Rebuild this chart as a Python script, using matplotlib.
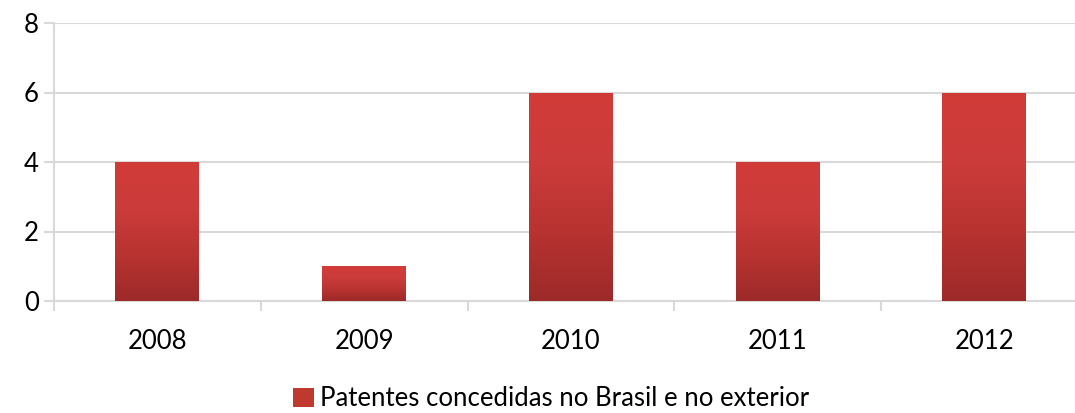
import numpy as np
import matplotlib.pyplot as plt
from matplotlib.colors import LinearSegmentedColormap
from matplotlib.patches import Patch

years = ['2008', '2009', '2010', '2011', '2012']
patentes = [4, 1, 6, 4, 6]
serie = 'Patentes concedidas no Brasil e no exterior'

plt.rcParams['font.family'] = ['Lato', 'DejaVu Sans']

fig = plt.figure(figsize=(10.75, 4.13), dpi=100)
# plot area runs a bit past the right edge of the image, like the original
ax = fig.add_axes([54 / 1075, 1 - 301 / 413, (5 * 206.75) / 1075, (301 - 23) / 413])

grid_c = '#d9d9d9'
x = np.arange(len(years))
bars = ax.bar(x, patentes, width=0.406, color='none', edgecolor='none', zorder=3)

# vertical red gradient: lighter on top, darker at the base
cmap = LinearSegmentedColormap.from_list('red_grad', ['#9c2a29', '#b83331', '#cb3c3a', '#d13b38'])
grad = np.linspace(0, 1, 256).reshape(-1, 1)
for b in bars:
    x0, y0 = b.get_x(), b.get_y()
    w, h = b.get_width(), b.get_height()
    im = ax.imshow(grad, cmap=cmap, origin='lower', aspect='auto',
                   extent=[x0, x0 + w, y0, y0 + h], zorder=3)
    im.set_clip_path(b)

ax.set_xlim(-0.5, len(years) - 0.5)
ax.set_ylim(0, 8)
ax.set_yticks([0, 2, 4, 6, 8])
ax.yaxis.grid(True, color=grid_c, linewidth=1.5, zorder=0)

ax.set_xticks(x)
ax.set_xticklabels(years, fontsize=18.5)
ax.set_xticks(np.arange(-0.5, len(years)), minor=True)
ax.tick_params(axis='x', which='major', length=0, pad=20)
ax.tick_params(axis='x', which='minor', length=7, width=1.5, color=grid_c, direction='out')
ax.tick_params(axis='y', length=7, width=1.5, color=grid_c, labelsize=18.5, pad=4)

for s in ['top', 'right']:
    ax.spines[s].set_visible(False)
for s in ['left', 'bottom']:
    ax.spines[s].set_color(grid_c)
    ax.spines[s].set_linewidth(1.5)

handle = Patch(facecolor='#c0392f', edgecolor='none')
fig.legend([handle], [serie], loc='lower center', bbox_to_anchor=(0.513, -0.052),
           frameon=False, fontsize=18.5, handlelength=0.8, handleheight=0.8,
           handletextpad=0.25)

fig.savefig('out.png', dpi=100)
